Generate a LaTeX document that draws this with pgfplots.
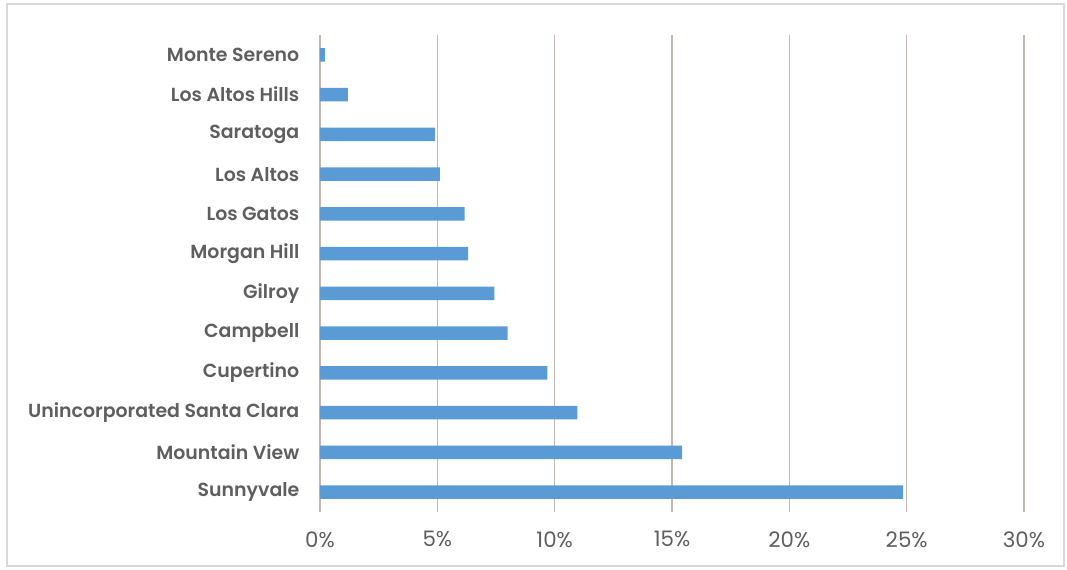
\documentclass[border=0pt]{standalone}
\usepackage{pgfplots}
\pgfplotsset{compat=1.18}
\usepackage{fontspec}
\setmainfont{Poppins}
\newfontfamily\semib{Poppins SemiBold}
\definecolor{barc}{HTML}{5B9BD5}
\definecolor{gridc}{RGB}{198,182,176}
\definecolor{txt}{HTML}{5E5E5E}
\begin{document}
\begin{tikzpicture}
\path (0pt,0pt) rectangle (800.25pt,426.75pt);
\draw[black!15, line width=1.2pt] (5.25pt,2.25pt) rectangle (798pt,423.75pt);
\begin{axis}[
  at={(240pt,42.75pt)}, anchor=south west,
  scale only axis, width=528pt, height=357.75pt,
  xbar, bar width=10pt,
  xmin=0, xmax=30, ymin=-0.5, ymax=11.5,
  axis line style={draw=none},
  xmajorgrids=true, ymajorgrids=false,
  major grid style={draw=gridc, line width=0.85pt},
  xtick={0,5,10,15,20,25,30},
  xticklabels={0\%,5\%,10\%,15\%,20\%,25\%,30\%},
  ytick={0,...,11},
  yticklabels={Sunnyvale,Mountain View,Unincorporated Santa Clara,Cupertino,Campbell,Gilroy,Morgan Hill,Los Gatos,Los Altos,Saratoga,Los Altos Hills,Monte Sereno},
  major tick length=0pt,
  xticklabel style={font=\fontsize{16}{18}\selectfont, text=txt, yshift=-11pt},
  yticklabel style={font=\fontsize{14.2}{16}\selectfont\semib, text=txt, xshift=-12pt},
  /pgf/number format/assume math mode=true,
]
\addplot[fill=barc, draw=none] coordinates {
(24.85,0) (15.43,1) (10.97,2) (9.69,3) (7.99,4) (7.43,5) (6.31,6) (6.16,7) (5.11,8) (4.91,9) (1.19,10) (0.21,11)
};
\end{axis}
\end{tikzpicture}
\end{document}
